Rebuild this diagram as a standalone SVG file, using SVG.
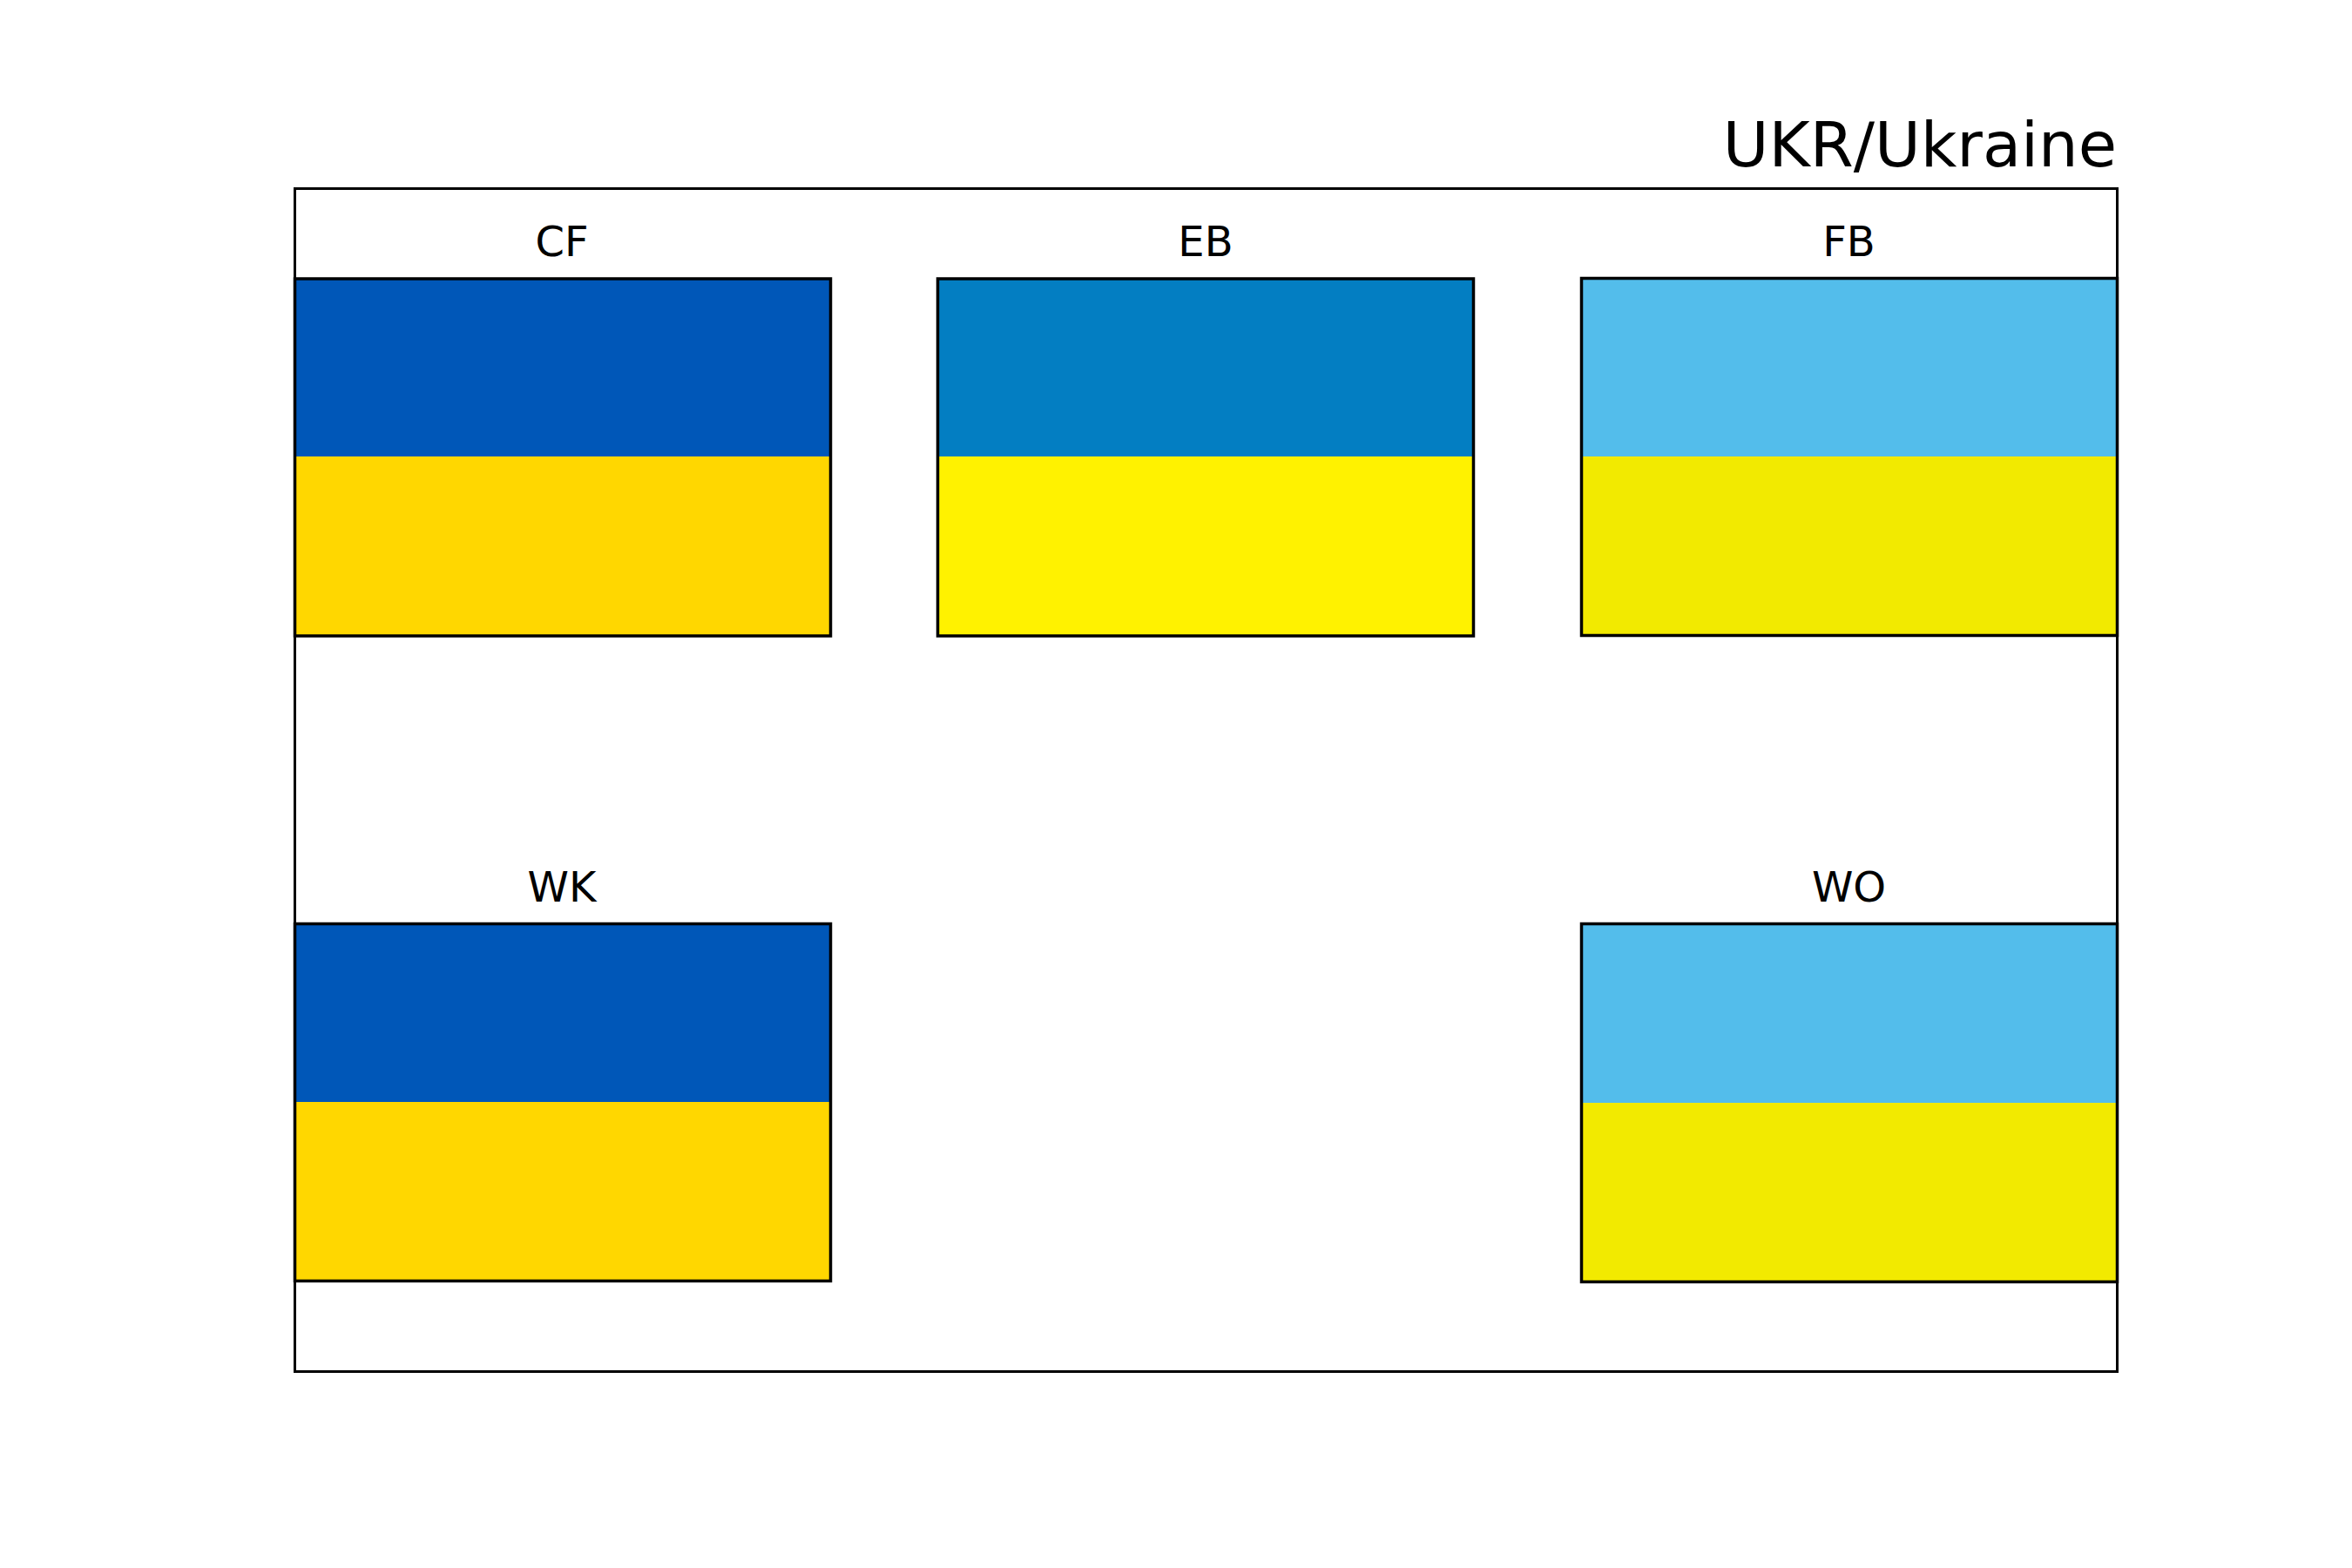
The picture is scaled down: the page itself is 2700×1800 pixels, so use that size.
<svg xmlns="http://www.w3.org/2000/svg" width="2700" height="1800" viewBox="0 0 2700 1800">
<style>
text{font-family:"DejaVu Sans",sans-serif;fill:#000}
.l{font-size:48px;text-anchor:middle}
.t{font-size:72px;text-anchor:end}
.b{fill:none;stroke:#000;stroke-width:3.500}
.f{fill:none;stroke:#000;stroke-width:3}
</style>
<rect width="2700" height="1800" fill="#fff"/>
<rect id="frame" class="f" x="338.500" y="216.500" width="2092" height="1358"/>
<text id="title" class="t" x="2430" y="191">UKR/Ukraine</text>
<g id="CF"><rect x="339" y="320" width="615" height="205" fill="#0057b8"/><rect x="339" y="524" width="615" height="206" fill="#ffd700"/><rect class="b" x="338.500" y="320" width="615" height="410"/><text class="l" x="645" y="294">CF</text></g>
<g id="EB"><rect x="1076" y="320" width="616" height="205" fill="#037ec2"/><rect x="1076" y="524" width="616" height="206" fill="#fff200"/><rect class="b" x="1076.500" y="320" width="615" height="410"/><text class="l" x="1384" y="294">EB</text></g>
<g id="FB"><rect x="1815" y="319" width="616" height="205" fill="#53bdeb"/><rect x="1815" y="524" width="616" height="206" fill="#f2ea00"/><rect class="b" x="1815.500" y="319.500" width="615" height="410"/><text class="l" x="2122.500" y="294">FB</text></g>
<g id="WK"><rect x="339" y="1061" width="615" height="205" fill="#0057b8"/><rect x="339" y="1265" width="615" height="205" fill="#ffd700"/><rect class="b" x="338.500" y="1060.500" width="615" height="410"/><text class="l" x="645" y="1035">WK</text></g>
<g id="WO"><rect x="1815" y="1061" width="616" height="206" fill="#53bdeb"/><rect x="1815" y="1266" width="616" height="205" fill="#f2ea00"/><rect class="b" x="1815.500" y="1060.500" width="615" height="411"/><text class="l" x="2122.500" y="1035">WO</text></g>
</svg>
